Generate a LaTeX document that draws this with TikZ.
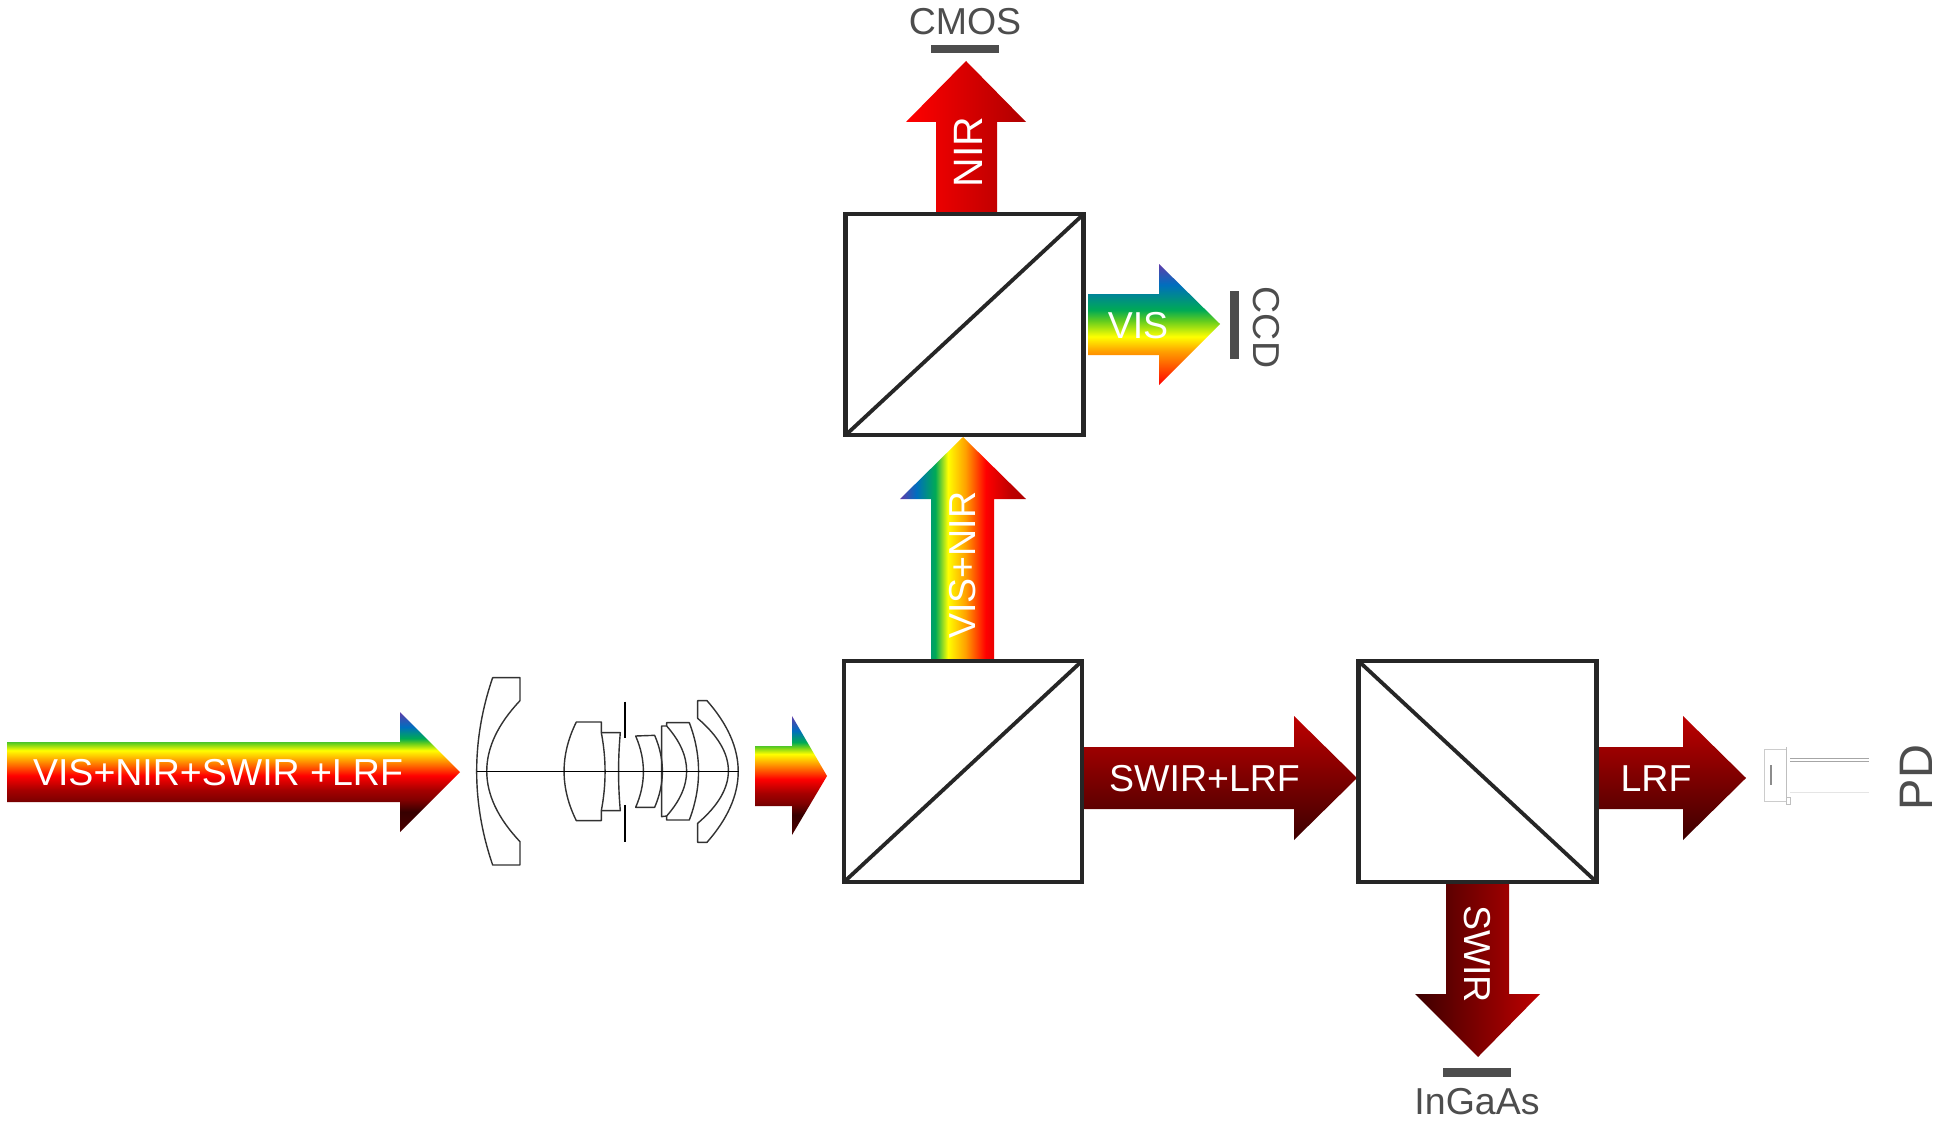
\documentclass[tikz,border=0pt]{standalone}
\usepackage{fontspec}
\setmainfont{Liberation Sans}
\definecolor{cPurple}{RGB}{95,60,170}
\definecolor{cBlue}{RGB}{0,110,190}
\definecolor{cGreen}{RGB}{0,170,85}
\definecolor{cLime}{RGB}{100,205,30}
\definecolor{cYellow}{RGB}{255,255,0}
\definecolor{cOrange}{RGB}{255,160,0}
\definecolor{cRed}{RGB}{255,0,0}
\definecolor{cDarkRed}{RGB}{165,0,0}
\definecolor{cMaroon}{RGB}{130,0,0}
\definecolor{cBlack}{RGB}{55,0,0}
\definecolor{cEnd}{RGB}{75,0,0}
\definecolor{cHi}{RGB}{190,0,0}
\definecolor{cLo}{RGB}{60,0,0}
\definecolor{cNirR}{RGB}{175,0,0}
\definecolor{cGrey}{RGB}{77,77,77}
\definecolor{cBox}{RGB}{38,38,38}
\definecolor{cLens}{RGB}{50,50,50}
\pgfdeclareverticalshading{fullband}{100bp}{color(0bp)=(cEnd); color(25bp)=(cEnd); color(33.5bp)=(cBlack); color(38.5bp)=(cMaroon); color(42.5bp)=(cDarkRed); color(48.5bp)=(cRed); color(55bp)=(cOrange); color(59bp)=(cYellow); color(62bp)=(cLime); color(64bp)=(cGreen); color(68.75bp)=(cBlue); color(75bp)=(cPurple); color(100bp)=(cPurple)}
\pgfdeclarehorizontalshading{visnirband}{100bp}{color(0bp)=(cPurple); color(25bp)=(cPurple); color(31.5bp)=(cBlue); color(39bp)=(cGreen); color(44bp)=(cYellow); color(51bp)=(cOrange); color(59bp)=(cRed); color(69bp)=(cHi); color(75bp)=(cNirR); color(100bp)=(cNirR)}
\pgfdeclareverticalshading{visband}{100bp}{color(0bp)=(cRed); color(25bp)=(cRed); color(39bp)=(cOrange); color(45bp)=(cYellow); color(51.5bp)=(cLime); color(56bp)=(cGreen); color(66.5bp)=(cBlue); color(75bp)=(cPurple); color(100bp)=(cPurple)}
\pgfdeclarehorizontalshading{nirband}{100bp}{color(0bp)=(cRed); color(25bp)=(cRed); color(75bp)=(cNirR); color(100bp)=(cNirR)}
\pgfdeclareverticalshading{deepband}{100bp}{color(0bp)=(cLo); color(25bp)=(cLo); color(75bp)=(cHi); color(100bp)=(cHi)}
\pgfdeclarehorizontalshading{swirband}{100bp}{color(0bp)=(cLo); color(25bp)=(cLo); color(75bp)=(cHi); color(100bp)=(cHi)}
\tikzset{
  cube/.style={draw=cBox,line width=4.4pt,fill=none,inner sep=0pt,outer sep=0pt,minimum width=238pt,minimum height=221pt},
  diag/.style={draw=cBox,line width=3.8pt},
  beam/.style={shade,shading=#1},
  whitelabel/.style={text=white,font=\fontsize{37.5}{40}\selectfont,inner sep=0pt},
  greylabel/.style={text=cGrey,font=\fontsize{37.5}{40}\selectfont,inner sep=0pt},
  sensor/.style={fill=cGrey,draw=none},
  glass/.style={draw=cLens,line width=1.4pt,line join=round},
  pdline/.style={draw=black!35,line width=.8pt},
}
\begin{document}
\begin{tikzpicture}[x=1pt,y=-1pt]
\useasboundingbox (0,0) rectangle (1938,1121);
\fill[white] (0,0) rectangle (1938,1121);

% beams
\path[beam=fullband] (7,742)--(400,742)--(400,712)--(460,772)--(400,832)--(400,802)--(7,802)--cycle;
\path[beam=fullband] (755,746)--(792,746)--(792,716)--(827,776)--(792,835)--(792,806)--(755,806)--cycle;
\path[beam=visnirband] (931,661)--(931,499)--(900,499)--(963,437)--(1026,499)--(994,499)--(994,661)--cycle;
\path[beam=nirband] (936,214)--(936,122)--(906,122)--(966,61)--(1026,122)--(997,122)--(997,214)--cycle;
\path[beam=visband] (1088,294)--(1159,294)--(1159,264)--(1220,324)--(1159,385)--(1159,355)--(1088,355)--cycle;
\path[beam=deepband] (1083,747)--(1294,747)--(1294,716)--(1357,778)--(1294,840)--(1294,809)--(1083,809)--cycle;
\path[beam=deepband] (1597,747)--(1683,747)--(1683,716)--(1746,778)--(1683,840)--(1683,809)--(1597,809)--cycle;
\path[beam=swirband] (1446,882)--(1446,994)--(1415,994)--(1478,1057)--(1540,994)--(1509,994)--(1509,882)--cycle;

% beam splitter cubes
\node[cube] (topcube) at (964.5,324.7) {};
\node[cube] (midcube) at (963,771.5) {};
\node[cube] (rightcube) at (1477.5,771.5) {};
\draw[diag] (topcube.south west)--(topcube.north east);
\draw[diag] (midcube.south west)--(midcube.north east);
\draw[diag] (rightcube.north west)--(rightcube.south east);

% sensors
\fill[sensor] (931,45) rectangle (999,53);
\fill[sensor] (1230,291) rectangle (1239,359);
\fill[sensor] (1443,1068) rectangle (1511,1077);

% labels
\node[whitelabel] (lblall) at (218,773) {VIS+NIR+SWIR +LRF};
\node[whitelabel,rotate=90] (lblvisnir) at (963,565) {VIS+NIR};
\node[whitelabel,rotate=90,font=\fontsize{41}{44}\selectfont] (lblnir) at (968,152) {NIR};
\node[whitelabel] (lblvis) at (1138,326) {VIS};
\node[whitelabel] (lblswirlrf) at (1204.5,779) {SWIR+LRF};
\node[whitelabel] (lbllrf) at (1656,779) {LRF};
\node[whitelabel,rotate=-90] (lblswir) at (1477,954) {SWIR};
\node[greylabel] (lblcmos) at (965,22) {CMOS};
\node[greylabel,rotate=-90] (lblccd) at (1266,327.5) {CCD};
\node[greylabel] (lblingaas) at (1477,1102) {InGaAs};
\node[greylabel,rotate=90,font=\fontsize{47}{50}\selectfont] (lblpd) at (1916,777.5) {PD};

% lens assembly, in 3x zoom units
\begin{scope}[shift={(460,660)},x=0.3333pt,y=-0.3333pt]
  \draw[glass] (98,53)--(180,53)--(180,122) .. controls (47,263) and (47,404) .. (180,545)--(180,615)--(98,615) .. controls (34,428) and (34,240) .. (98,53)--cycle;
  \draw[glass] (349,186)--(424,186)--(424,218) .. controls (439,296) and (439,374) .. (424,452)--(424,482)--(349,482) .. controls (300,383) and (300,285) .. (349,186)--cycle;
  \draw[glass] (424,218)--(481,218) .. controls (474,296) and (474,374) .. (481,452)--(424,452);
  \draw[black,line width=2pt] (494,125)--(494,235);
  \draw[black,line width=2pt] (494,435)--(494,545);
  \draw[glass] (527,228)--(584,226) .. controls (615,298) and (615,370) .. (584,442)--(527,442) .. controls (558,371) and (558,299) .. (527,228)--cycle;
  \draw[glass] (605,198)--(620,198) .. controls (700,288) and (700,378) .. (620,468)--(605,470)--cycle;
  \draw[glass] (620,198)--(620,188)--(688,188) .. controls (725,285) and (725,383) .. (688,480)--(620,480)--(620,468);
  \draw[glass] (713,175)--(713,122)--(741,122) .. controls (866,264) and (866,405) .. (741,547)--(713,547)--(713,490) .. controls (836,385) and (836,280) .. (713,175)--cycle;
  \draw[black,line width=1.3pt] (50,334)--(838,334);
\end{scope}

% photodiode
\draw[pdline,draw=black!20] (1764,749) rectangle (1786,801);
\draw[pdline,draw=black!25] (1786,747)--(1786,804)--(1790,804)--(1790,797)--(1786,797);
\draw[pdline,draw=black!45,line width=1.2pt] (1771,765)--(1771,785);
\draw[pdline] (1790,758)--(1869,758);
\draw[pdline] (1790,761)--(1869,761);
\draw[pdline,draw=black!10] (1790,792)--(1869,792);
\end{tikzpicture}
\end{document}
